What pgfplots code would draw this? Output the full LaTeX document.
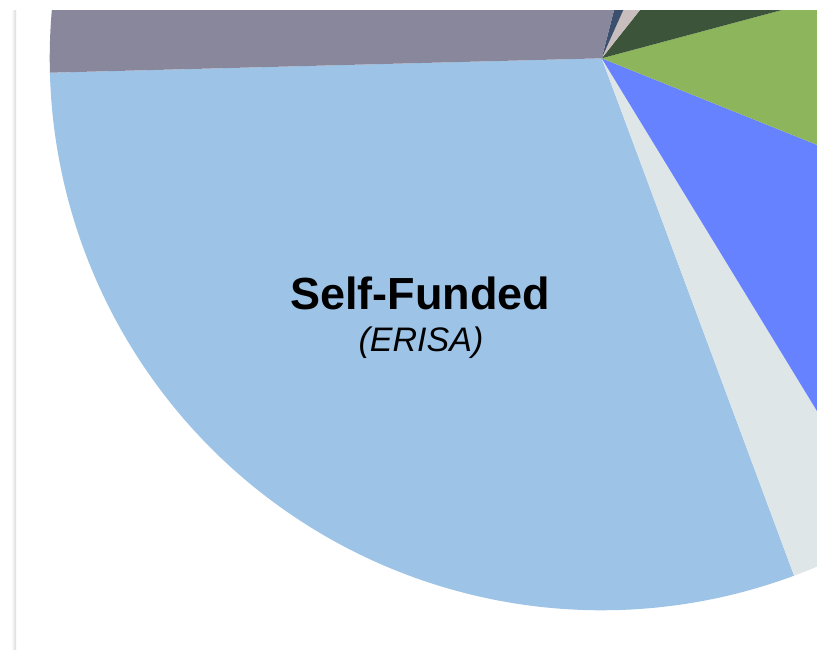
\documentclass[border=0pt]{standalone}
\usepackage{pgfplots}
\pgfplotsset{compat=1.18}
\usepackage{fontspec}
\setmainfont{Liberation Sans}
\definecolor{cGray}{HTML}{89879C}
\definecolor{cLBlue}{HTML}{9DC3E6}
\definecolor{cLGray}{HTML}{DEE6E8}
\definecolor{cBlue}{HTML}{6682FF}
\definecolor{cGreen}{HTML}{8DB65C}
\definecolor{cDGreen}{HTML}{3C553A}
\definecolor{cBeige}{HTML}{C8BEBE}
\definecolor{cSlate}{HTML}{3C506E}
\begin{document}
\begin{tikzpicture}
\begin{axis}[
  scale only axis, width=817pt, height=650pt,
  xmin=0, xmax=817, ymin=0, ymax=650, y dir=reverse,
  hide axis, clip=true,
  axis background/.style={fill=white},
]
% pie slices: start angle, end angle (degrees), centre (601.7,58.3), radius 552
\def\cx{601.7}\def\cy{58.3}\def\r{552}
\addplot[draw=none, fill=cLBlue, domain=181.5:290.4, samples=120] ({\cx+\r*cos(x)},{\cy-\r*sin(x)}) -- (\cx,\cy) -- cycle;
\addplot[draw=none, fill=cLGray, domain=290.4:301.4, samples=20] ({\cx+\r*cos(x)},{\cy-\r*sin(x)}) -- (\cx,\cy) -- cycle;
\addplot[draw=none, fill=cBlue, domain=301.4:338.1, samples=40] ({\cx+\r*cos(x)},{\cy-\r*sin(x)}) -- (\cx,\cy) -- cycle;
\addplot[draw=none, fill=cGreen, domain=338.1:375.0, samples=40] ({\cx+\r*cos(x)},{\cy-\r*sin(x)}) -- (\cx,\cy) -- cycle;
\addplot[draw=none, fill=cDGreen, domain=15.0:51.6, samples=40] ({\cx+\r*cos(x)},{\cy-\r*sin(x)}) -- (\cx,\cy) -- cycle;
\addplot[draw=none, fill=cBeige, domain=51.6:65.9, samples=20] ({\cx+\r*cos(x)},{\cy-\r*sin(x)}) -- (\cx,\cy) -- cycle;
\addplot[draw=none, fill=cSlate, domain=65.9:75.7, samples=20] ({\cx+\r*cos(x)},{\cy-\r*sin(x)}) -- (\cx,\cy) -- cycle;
\addplot[draw=none, fill=cGray, domain=75.7:181.5, samples=120] ({\cx+\r*cos(x)},{\cy-\r*sin(x)}) -- (\cx,\cy) -- cycle;
% card edge: white band above, shadow at left
\fill[white] (0,0) rectangle (817,10);
\fill[white] (0,10) rectangle (16,650);
\shade[left color=white, right color=black!14] (11,10) rectangle (16,650);
\node[anchor=base, inner sep=0pt, font=\fontsize{45}{50}\selectfont\bfseries] at (420,309) {Self-Funded};
\node[anchor=base, inner sep=0pt, font=\fontsize{34}{40}\selectfont\itshape] at (421,351) {(ERISA)};
\end{axis}
\end{tikzpicture}
\end{document}
